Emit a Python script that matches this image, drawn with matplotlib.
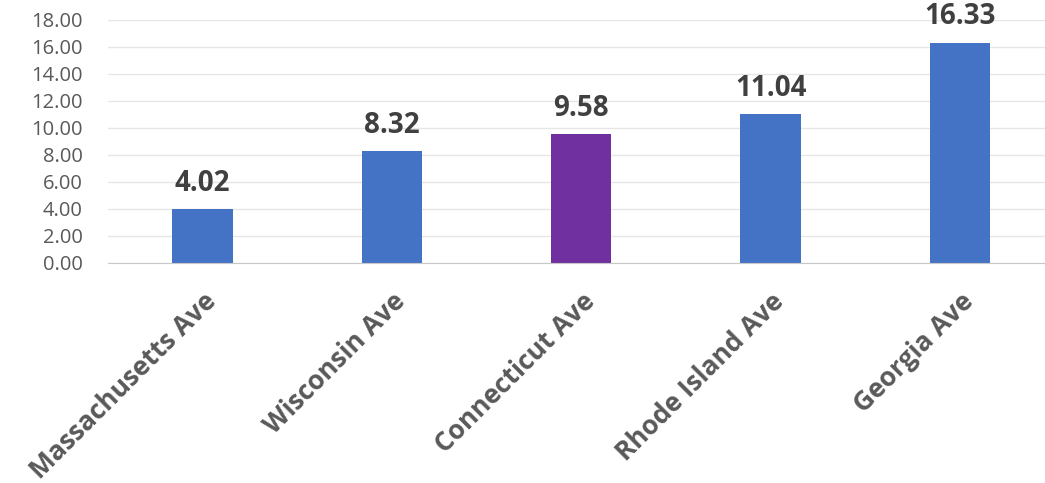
import matplotlib.pyplot as plt

# data
streets = ["Massachusetts Ave", "Wisconsin Ave", "Connecticut Ave", "Rhode Island Ave", "Georgia Ave"]
values = [4.02, 8.32, 9.58, 11.04, 16.33]
colors = ["#4472C4", "#4472C4", "#7030A0", "#4472C4", "#4472C4"]
yticks = [0, 2, 4, 6, 8, 10, 12, 14, 16, 18]

plt.rcParams["font.family"] = ["Open Sans", "DejaVu Sans"]

fig = plt.figure(figsize=(10.45, 4.83), dpi=100)
ax = fig.add_axes([0.1033, 0.4555, 0.8967, 0.5031])

x = range(len(streets))
bars = ax.bar(x, values, width=0.32, color=colors, zorder=3)

# value labels above bars
for xi, v in zip(x, values):
    ax.annotate(f"{v:.2f}", (xi, v), xytext=(0, 8), textcoords="offset points",
                ha="center", va="bottom", fontsize=20, fontweight="bold", color="#404040")

ax.set_ylim(0, 18)
ax.set_xlim(-0.5, 4.45)
ax.set_yticks(yticks)
ax.set_yticklabels([f"{t:.2f}" for t in yticks], fontsize=14.5, color="#595959")
ax.set_xticks(list(x))
ax.set_xticklabels(streets, rotation=45, ha="right", rotation_mode="anchor",
                   fontsize=19, fontweight="bold", color="#595959")
ax.tick_params(axis="both", length=0)
ax.tick_params(axis="y", pad=18)
ax.tick_params(axis="x", pad=18)

ax.grid(axis="y", color="#E6E6E6", linewidth=1, zorder=0)
for s in ["top", "right", "left"]:
    ax.spines[s].set_visible(False)
ax.spines["bottom"].set_color("#C8C8C8")
ax.spines["bottom"].set_zorder(4)

fig.savefig("out.png", dpi=100)
